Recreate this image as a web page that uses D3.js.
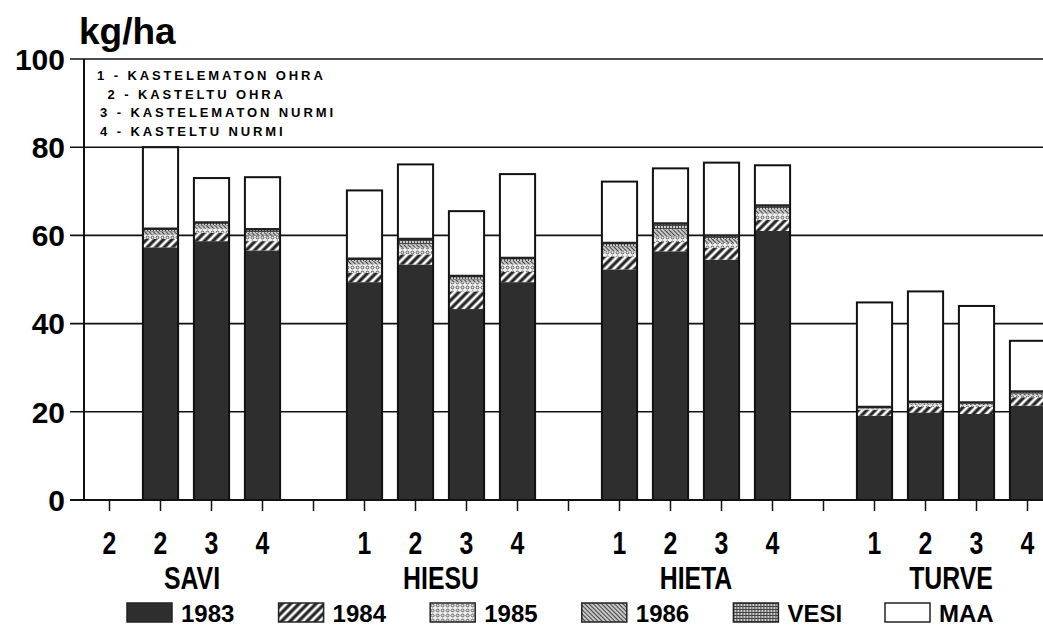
<!DOCTYPE html>
<html>
<head>
<meta charset="utf-8">
<script src="https://cdn.jsdelivr.net/npm/d3@7"></script>
<style>
  body { margin: 0; background: #fff; }
  svg { display: block; }
</style>
</head>
<body>
<div id="chart"></div>
<script>
// slot labels along the x axis (empty = gap slot)
var slotLabels = ["2", "2", "3", "4", "", "1", "2", "3", "4", "", "1", "2", "3", "4", "", "1", "2", "3", "4"];
var groups = [["SAVI", 0, 3], ["HIESU", 5, 8], ["HIETA", 10, 13], ["TURVE", 15, 18]];
var seriesNames = ["1983", "1984", "1985", "1986", "VESI", "MAA"];
var noteLines = ["1 - KASTELEMATON OHRA", " 2 - KASTELTU OHRA", "3 - KASTELEMATON NURMI", "4 - KASTELTU NURMI"];
var yTicks = [0, 20, 40, 60, 80, 100];

// segment heights (kg/ha) per slot
var v1983 = [0, 57.3, 58.7, 56.6, 0, 49.4, 53.4, 43.3, 49.4, 0, 52.3, 56.4, 54.5, 61.0, 0, 19.1, 19.8, 19.5, 21.4];
var v1984 = [0, 1.9, 1.9, 2.1, 0, 2.1, 2.3, 4.0, 2.3, 0, 2.9, 2.1, 2.7, 2.5, 0, 1.4, 1.3, 1.6, 1.9];
var v1985 = [0, 1.0, 0.9, 1.3, 0, 1.9, 1.5, 2.1, 1.7, 0, 1.2, 1.3, 1.1, 1.5, 0, 0.3, 0.5, 0.4, 0.4];
var v1986 = [0, 0.7, 0.8, 0.6, 0, 0.8, 0.8, 0.6, 0.8, 0, 1.1, 1.6, 0.9, 0.9, 0, 0.2, 0.3, 0.4, 0.4];
var vVesi = [0, 0.6, 0.6, 0.8, 0, 0.5, 1.2, 0.8, 0.7, 0, 0.8, 1.3, 0.8, 0.9, 0, 0.1, 0.4, 0.2, 0.5];
var vMaa  = [0, 18.5, 10.1, 11.8, 0, 15.5, 16.9, 14.7, 19.0, 0, 13.9, 12.5, 16.5, 9.1, 0, 23.7, 25.0, 21.9, 11.5];

var W = 1043, H = 626;
var sans = "'Liberation Sans', Arial, sans-serif";

var svg = d3.select("#chart").append("svg")
    .attr("width", W).attr("height", H);

var defs = svg.append("defs");

function linePattern(id, size, sw, angle, color) {
  var p = defs.append("pattern").attr("id", id)
    .attr("patternUnits", "userSpaceOnUse")
    .attr("width", size).attr("height", size)
    .attr("patternTransform", "rotate(" + angle + ")");
  p.append("rect").attr("width", size).attr("height", size).attr("fill", "#fff");
  p.append("line").attr("x1", size / 2).attr("x2", size / 2).attr("y1", 0).attr("y2", size)
    .attr("stroke", color).attr("stroke-width", sw);
}
linePattern("p1984", 6, 3.2, 45, "#222");
linePattern("p1986", 3, 1.6, -45, "#444");

var pd = defs.append("pattern").attr("id", "p1985")
  .attr("patternUnits", "userSpaceOnUse").attr("width", 5).attr("height", 5);
pd.append("rect").attr("width", 5).attr("height", 5).attr("fill", "#eee");
pd.append("circle").attr("cx", 2.5).attr("cy", 2.5).attr("r", 1.4)
  .attr("fill", "none").attr("stroke", "#555").attr("stroke-width", 1);

var pv = defs.append("pattern").attr("id", "pVesi")
  .attr("patternUnits", "userSpaceOnUse").attr("width", 3).attr("height", 3);
pv.append("rect").attr("width", 3).attr("height", 3).attr("fill", "#ccc");
pv.append("path").attr("d", "M0,0.5H3M0.5,0V3").attr("stroke", "#444").attr("stroke-width", 1);

var fills = {"1983": "#2e2e2e", "1984": "url(#p1984)", "1985": "url(#p1985)",
             "1986": "url(#p1986)", "VESI": "url(#pVesi)", "MAA": "#fff"};

var x = d3.scaleBand().domain(d3.range(slotLabels.length))
    .range([84, 1053]).paddingInner(0.31).paddingOuter(0.155);
var y = d3.scaleLinear().domain([0, 100]).range([500, 59]);

// gridlines
svg.append("g").selectAll("line").data(yTicks).join("line")
  .attr("x1", 70).attr("x2", W)
  .attr("y1", d => y(d)).attr("y2", d => y(d))
  .attr("stroke", "#111").attr("stroke-width", 1.6);

// y axis line
svg.append("line").attr("x1", 84).attr("x2", 84).attr("y1", y(100)).attr("y2", y(0))
  .attr("stroke", "#111").attr("stroke-width", 2);

// y labels
svg.append("g").selectAll("text").data(yTicks).join("text")
  .attr("x", 65).attr("y", d => y(d)).attr("dy", "0.36em")
  .attr("text-anchor", "end")
  .style("font-family", sans)
  .style("font-weight", "bold").style("font-size", "30px")
  .text(d => d);

svg.append("text").attr("x", 79).attr("y", 44)
  .style("font-family", sans)
  .style("font-weight", "bold").style("font-size", "37px")
  .text("kg/ha");

// stacked bars
var table = slotLabels.map(function (l, i) {
  return {i: i, "1983": v1983[i], "1984": v1984[i], "1985": v1985[i], "1986": v1986[i], "VESI": vVesi[i], "MAA": vMaa[i]};
}).filter((d, i) => v1983[i] > 0);
var stack = d3.stack().keys(seriesNames)(table);

svg.append("g").selectAll("g").data(stack).join("g")
  .attr("fill", d => fills[d.key])
  .selectAll("rect").data(d => d).join("rect")
  .attr("x", d => x(d.data.i))
  .attr("width", x.bandwidth())
  .attr("y", d => y(d[1]))
  .attr("height", d => y(d[0]) - y(d[1]));

// outlines of bars and boundary between soil part and the rest
svg.append("g").selectAll("rect").data(table).join("rect")
  .attr("x", d => x(d.i)).attr("width", x.bandwidth())
  .attr("y", d => y(d3.sum(seriesNames, k => d[k])))
  .attr("height", d => y(0) - y(d3.sum(seriesNames, k => d[k])))
  .attr("fill", "none").attr("stroke", "#111").attr("stroke-width", 2);
svg.append("g").selectAll("line").data(table).join("line")
  .attr("x1", d => x(d.i)).attr("x2", d => x(d.i) + x.bandwidth())
  .attr("y1", d => y(d3.sum(seriesNames.slice(0, 5), k => d[k])))
  .attr("y2", d => y(d3.sum(seriesNames.slice(0, 5), k => d[k])))
  .attr("stroke", "#222").attr("stroke-width", 2.5);

// x axis line and ticks
svg.append("line").attr("x1", 70).attr("x2", W).attr("y1", y(0)).attr("y2", y(0))
  .attr("stroke", "#111").attr("stroke-width", 2);
svg.append("g").selectAll("line").data(d3.range(slotLabels.length)).join("line")
  .attr("x1", d => x(d) + x.bandwidth() / 2).attr("x2", d => x(d) + x.bandwidth() / 2)
  .attr("y1", y(0)).attr("y2", y(0) + 11)
  .attr("stroke", "#111").attr("stroke-width", 1.5);

// condensed labels: tall bold font squeezed horizontally
svg.append("g").selectAll("text").data(d3.range(slotLabels.length)).join("text")
  .attr("transform", d => "translate(" + (x(d) + x.bandwidth() / 2) + ",554) scale(0.8,1)")
  .attr("text-anchor", "middle")
  .style("font-family", sans).style("font-weight", "bold").style("font-size", "31px")
  .text(d => slotLabels[d]);
svg.append("g").selectAll("text").data(groups).join("text")
  .attr("transform", d => "translate(" + ((x(d[1]) + x(d[2]) + x.bandwidth()) / 2 + (d[0] === "SAVI" ? 6 : 0)) + ",589) scale(0.8,1)")
  .attr("text-anchor", "middle")
  .style("font-family", sans).style("font-weight", "bold").style("font-size", "31px")
  .text(d => d[0]);

// note box text
svg.append("g").selectAll("text").data(noteLines).join("text")
  .attr("x", (d, i) => [97, 101, 100, 100][i]).attr("y", (d, i) => 80 + i * 18.5)
  .attr("xml:space", "preserve")
  .style("font-family", sans)
  .style("font-weight", "bold").style("font-size", "13px")
  .style("letter-spacing", "2.9px")
  .text(d => d);

// legend
var leg = svg.append("g").selectAll("g").data(seriesNames).join("g")
  .attr("transform", (d, i) => "translate(" + (127 + i * 151.6) + ",603)");
leg.append("rect").attr("width", 45).attr("height", 19)
  .attr("fill", d => fills[d]).attr("stroke", "#222").attr("stroke-width", 1.5);
leg.append("text").attr("x", 54).attr("y", 19)
  .style("font-family", sans).style("font-weight", "bold").style("font-size", "24px")
  .text(d => d);
</script>
</body>
</html>
